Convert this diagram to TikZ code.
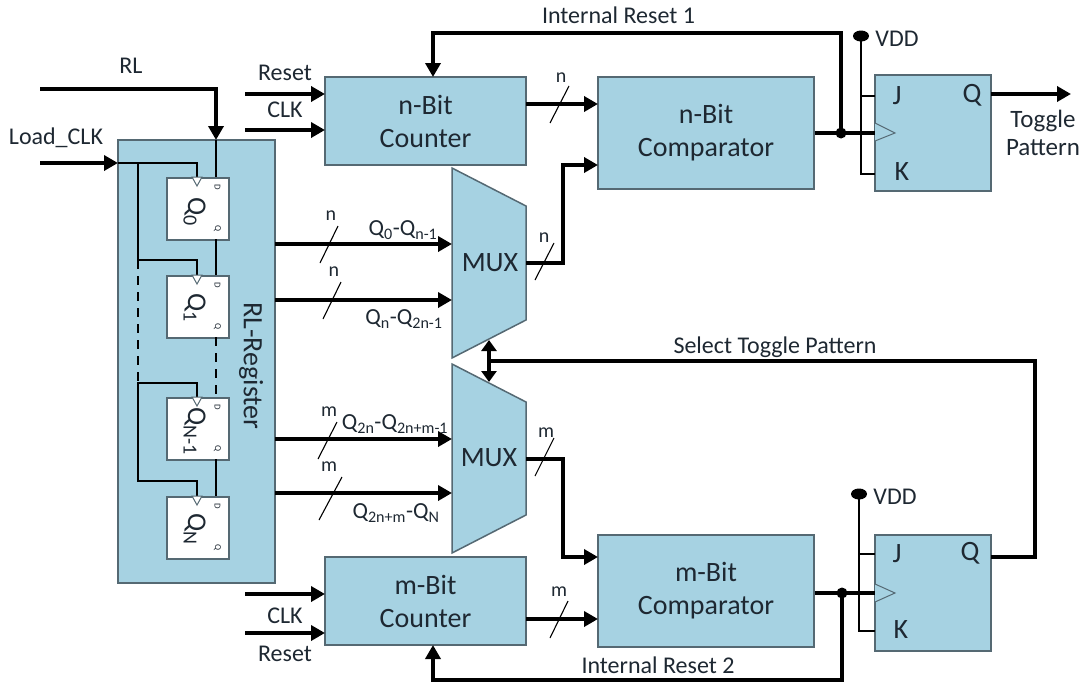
\documentclass[tikz,border=0pt]{standalone}
\usepackage{fontspec}
\setmainfont{Carlito}
\usetikzlibrary{arrows.meta}
\usetikzlibrary{shapes.geometric}
\definecolor{mbox}{RGB}{166,210,226}
\definecolor{medge}{RGB}{85,105,115}
\definecolor{mtext}{RGB}{30,40,50}
\tikzset{
  blockbox/.style = {draw=medge, line width=1.5pt, fill=mbox},
  regbox/.style = {draw=medge, line width=1.5pt, fill=white},
  bus/.style = {line width=3.6pt, -{Triangle[length=14pt, width=15pt]}},
  wire/.style = {line width=3.6pt},
  thinwire/.style = {line width=1.5pt},
  slash/.style = {line width=1.1pt},
  junc/.style = {fill, circle, inner sep = 0, minimum size = 11},
  vddot/.style = {fill, ellipse, inner sep = 0, minimum width = 16, minimum height = 11},
  lbl/.style = {font=\fontsize{24}{28}\selectfont, text=mtext, inner sep=0},
  sublbl/.style = {font=\fontsize{23}{28}\selectfont, text=mtext, inner sep=0},
  biglbl/.style = {font=\fontsize{28}{33}\selectfont, text=mtext, inner sep=0, align=center},
  tinylbl/.style = {font=\fontsize{20}{22}\selectfont, text=mtext, inner sep=0},
}
\begin{document}
\begin{tikzpicture}[x=1pt, y=-1pt]
    \useasboundingbox (0, 0) rectangle (1082, 688);

    % register with its four stages
    \draw [blockbox] (118, 140) rectangle (275, 583);
    \foreach \y/\name/\sub/\dy in {177/a/0/20, 275/b/1/18, 397/c/N-1/10, 496/d/N/17} {
      \node (q\name) [regbox, minimum width=62, minimum height=62, inner sep=0, anchor=north west] at (166, \y) {};
      \node [font=\fontsize{27}{28}\selectfont, text=mtext, rotate=-90, anchor=base west, inner sep=0] at (188, \y + \dy) {Q\textsubscript{\fontsize{20}{20}\selectfont\sub}};
      \node [font=\fontsize{9}{9}\selectfont, text=mtext, rotate=-90, inner sep=0] at (217.5, \y + 10) {D};
      \node [font=\fontsize{9}{9}\selectfont, text=mtext, rotate=-90, inner sep=0] at (217.5, \y + 52) {Q};
    }
    \coordinate (rlin) at (40, 89);
    \coordinate (rlend) at (216, 140);
    \coordinate (ldin) at (40, 163);
    \coordinate (ldend) at (118, 163);
    \draw [thinwire] (rlend) -- (216, 177);
    \draw [thinwire] (216, 239) -- (216, 275);
    \draw [thinwire, dashed, dash pattern=on 9pt off 7pt] (216, 337) -- (216, 397);
    \draw [thinwire] (216, 459) -- (216, 496);
    \draw [thinwire] (ldend) -- (197, 163) -- (197, 177);
    \draw [thinwire] (138, 163) -- (138, 260) -- (197, 260) -- (197, 275);
    \draw [thinwire, dashed, dash pattern=on 9pt off 7pt] (138, 260) -- (138, 383);
    \draw [thinwire] (197, 397) -- (197, 383) -- (138, 383) -- (138, 481) -- (197, 481) -- (197, 496);
    \foreach \y in {177, 275, 397, 496} {
      \draw [medge, line width=1pt, fill=white] (192, \y) -- (202, \y) -- (197, \y + 9) -- cycle;
    }
    \draw [bus] (rlin) -- (216, 89) -- (rlend);
    \draw [bus] (ldin) -- (ldend);
    \node [biglbl, rotate=-90] (rlreg) at (251, 366) {RL-Register};
    \node [lbl] (rl) at (131, 66) {RL};
    \node [lbl] (ld) at (56, 138) {Load\_CLK};

    % counters, comparators, flip-flops
    \node (cntn) [blockbox, minimum width=201, minimum height=88, inner sep=0, biglbl] at (425.5, 121) {n-Bit\\Counter};
    \node (cntm) [blockbox, minimum width=201, minimum height=88, inner sep=0, biglbl] at (425.5, 601) {m-Bit\\Counter};
    \node (cmpn) [blockbox, minimum width=216, minimum height=112, inner sep=0, biglbl] at (706, 133) {n-Bit\\Comparator};
    \node (cmpm) [blockbox, minimum width=216, minimum height=112, inner sep=0, biglbl] at (706, 591) {m-Bit\\Comparator};
    \node (jkn) [blockbox, minimum width=116, minimum height=116, inner sep=0] at (933, 133) {};
    \node (jkm) [blockbox, minimum width=116, minimum height=116, inner sep=0] at (933, 593) {};

    % multiplexers
    \draw [blockbox] (452, 168) coordinate (muxna) -- (526, 206) -- (526, 320) -- (452, 358) -- cycle;
    \draw [blockbox] (452, 364) coordinate (muxma) -- (526, 402) -- (526, 515) -- (452, 553) -- cycle;
    \node (muxn) [biglbl] at (490, 263) {MUX};
    \node (muxm) [biglbl] at (489, 458) {MUX};

    % register to mux
    \foreach \y in {244, 300, 439, 493} {
      \draw [bus] (275, \y) -- (452, \y);
    }
    \foreach \a/\b/\c/\d/\t/\lx/\ly in {320/263/338/226/n/331/216, 323/319/341/282/n/334/272,
        318/459/337/422/m/329/412, 319/520/342/477/m/329/467,
        535/280/554/243/n/544/238, 535/476/554/438/m/546/433,
        550/123/569/86/n/561/78, 550/638/568/601/m/559/592} {
      \draw [slash] (\a, \b) -- (\c, \d);
      \node [tinylbl] at (\lx, \ly) {\t};
    }
    \node [sublbl] (qa) at (403, 230) {Q\textsubscript{0}-Q\textsubscript{n-1}};
    \node [sublbl] (qb) at (404, 319) {Q\textsubscript{n}-Q\textsubscript{2n-1}};
    \node [sublbl] (qc) at (395, 424) {Q\textsubscript{2n}-Q\textsubscript{2n+m-1}};
    \node [sublbl] (qd) at (396, 513) {Q\textsubscript{2n+m}-Q\textsubscript{N}};

    % inputs of the counters
    \foreach \y/\t/\ly in {94/Reset/73, 130/CLK/110, 594/CLK/616, 633/Reset/654} {
      \draw [bus] (245, \y) -- (325, \y);
      \node [lbl] at (285, \ly) {\t};
    }

    % buses into the comparators
    \draw [bus] (526, 104) -- (598, 104);
    \draw [bus] (526, 619) -- (598, 619);
    \draw [bus] (526, 263) -- (563, 263) -- (563, 165) -- (598, 165);
    \draw [bus] (526, 459) -- (563, 459) -- (563, 557) -- (598, 557);

    % upper flip-flop
    \draw [wire] (cmpn.east) -- (875, 133);
    \node (jna) [junc] at (841, 133) {};
    \draw [bus] (jna.center) -- (841, 33) -- (433, 33) -- (433, 77);
    \node [lbl] (ira) at (618.5, 15) {Internal Reset 1};
    \node (vddn) [vddot] at (861, 36) {};
    \draw [line width=2.4pt] (vddn.center) -- (861, 174) -- (875, 174);
    \draw [line width=2.4pt] (861, 96) -- (875, 96);
    \node [lbl] at (897, 39) {VDD};
    \draw [medge, line width=1pt, fill=mbox] (875, 123) -- (895, 133) -- (875, 141);
    \node [biglbl] at (897, 96) {J};
    \node [biglbl] at (902, 172) {K};
    \node [biglbl] at (972, 95) {Q};
    \draw [bus] (991, 94) -- (1071, 94);
    \node [lbl, align=center, font=\fontsize{25}{28}\selectfont] (tgl) at (1043, 133) {Toggle\\Pattern};

    % lower flip-flop
    \draw [wire] (cmpm.east |- 0, 593) -- (875, 593);
    \node (jma) [junc] at (842, 593) {};
    \draw [bus] (jma.center) -- (842, 680) -- (433, 680) -- (433, 645);
    \node [lbl] (irb) at (658, 665) {Internal Reset 2};
    \node (vddm) [vddot] at (859, 494) {};
    \draw [line width=2.4pt] (vddm.center) -- (859, 631) -- (875, 631);
    \draw [line width=2.4pt] (859, 554) -- (875, 554);
    \node [lbl] at (895, 497) {VDD};
    \draw [medge, line width=1pt, fill=mbox] (875, 584) -- (895, 593) -- (875, 602);
    \node [biglbl] at (897, 554) {J};
    \node [biglbl] at (901, 630) {K};
    \node [biglbl] at (970, 553) {Q};

    % select line
    \draw [wire] (991, 557) -- (1035, 557) -- (1035, 361) -- (489, 361);
    \draw [line width=3.6pt, {Triangle[length=11pt, width=15pt]}-{Triangle[length=11pt, width=15pt]}] (489, 340) -- (489, 382);
    \node [lbl] (sel) at (775, 347) {Select Toggle Pattern};
\end{tikzpicture}
\end{document}
